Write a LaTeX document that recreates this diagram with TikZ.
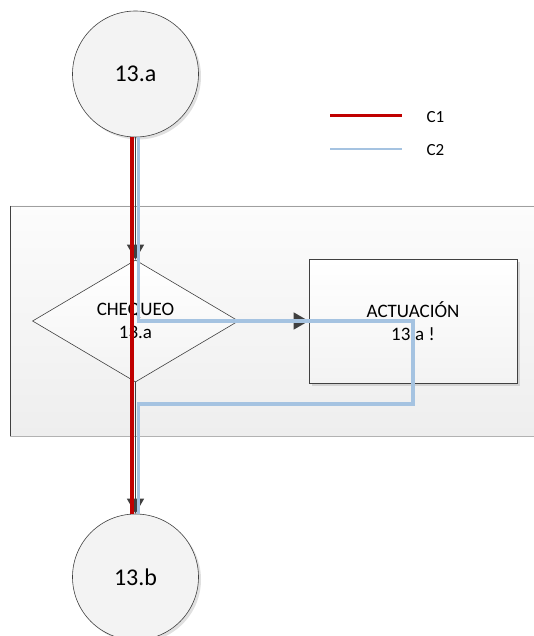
\documentclass[tikz,border=0pt]{standalone}
\usepackage{fontspec}
\setmainfont{Carlito}
\usetikzlibrary{shapes.geometric,arrows.meta,shadows}

\definecolor{lineCone}{RGB}{192,0,0}
\definecolor{lineCtwo}{RGB}{165,195,225}
\definecolor{edgegray}{RGB}{64,64,64}
\definecolor{shapefill}{RGB}{243,243,243}
\definecolor{pooltop}{RGB}{252,252,252}
\definecolor{poolbottom}{RGB}{238,238,238}

\begin{document}
\begin{tikzpicture}[x=1pt,y=-1pt,
  softshadow/.style={drop shadow={shadow xshift=2.5pt,shadow yshift=-2.5pt,fill=black,opacity=0.12}},
  state/.style={circle,draw=edgegray,line width=0.6pt,fill=shapefill,
    minimum size=126pt,inner sep=0pt,font=\fontsize{24}{27}\selectfont,softshadow},
  decision/.style={diamond,draw=edgegray,line width=0.6pt,top color=white,bottom color=shapefill,
    minimum width=206pt,minimum height=122pt,inner sep=0pt,align=center,
    font=\fontsize{19}{23}\selectfont},
  process/.style={rectangle,draw=edgegray,line width=0.6pt,top color=white,bottom color=shapefill,
    minimum width=208pt,minimum height=124pt,inner sep=0pt,align=center,
    font=\fontsize{19}{23}\selectfont,softshadow},
  conn/.style={draw=edgegray,line width=1.3pt,-{Triangle[length=15pt,width=17pt]}},
  cone/.style={draw=lineCone,line width=3.5pt},
  ctwo/.style={draw=lineCtwo,line width=3.5pt},
  legendtext/.style={anchor=west,font=\fontsize{17}{20}\selectfont},
]
\useasboundingbox (0,0) rectangle (534,636);

% swimlane band
\shade[top color=pooltop,bottom color=poolbottom] (10,206) rectangle (545,436);
\draw[draw=gray!75,line width=0.8pt] (545,206) -- (10,206);
\draw[draw=gray!60,line width=0.8pt] (10,436) -- (545,436);
\draw[draw=edgegray,line width=0.8pt] (10,206) -- (10,436);

% shapes
\node[state] (c13a) at (135.5,74) {13.a};
\node[state] (c13b) at (135.5,577) {13.b};
\node[decision] (chk) at (135.5,321) {CHEQUEO\\13.a};
\node[process] (act) at (413,321) {ACTUACIÓN\\13.a !};

% flow connectors
\draw[conn] (c13a.south) -- (chk.north);
\draw[conn] (chk.east) -- (act.west);
\draw[conn] (chk.south) -- (c13b.north);

% path C1
\draw[cone] ([xshift=-3.5pt]c13a.south) -- ([xshift=-3.5pt]c13b.north);

% path C2
\coordinate (loopR) at (413,404);
\coordinate (loopL) at (138.5,404);
\draw[ctwo] ([xshift=3pt]c13a.south) |- (act.center) -- (loopR) -- (loopL) -- ([xshift=3pt]c13b.north);

% legend
\coordinate (leg1a) at (330,116);
\coordinate (leg1b) at (402,116);
\coordinate (leg2a) at (330,149);
\coordinate (leg2b) at (402,149);
\draw[draw=lineCone,line width=3pt] (leg1a) -- (leg1b);
\draw[draw=lineCtwo,line width=2.5pt] (leg2a) -- (leg2b);
\node[legendtext] (lgone) at (423,117) {C1};
\node[legendtext] (lgtwo) at (423,150) {C2};
\end{tikzpicture}
\end{document}
